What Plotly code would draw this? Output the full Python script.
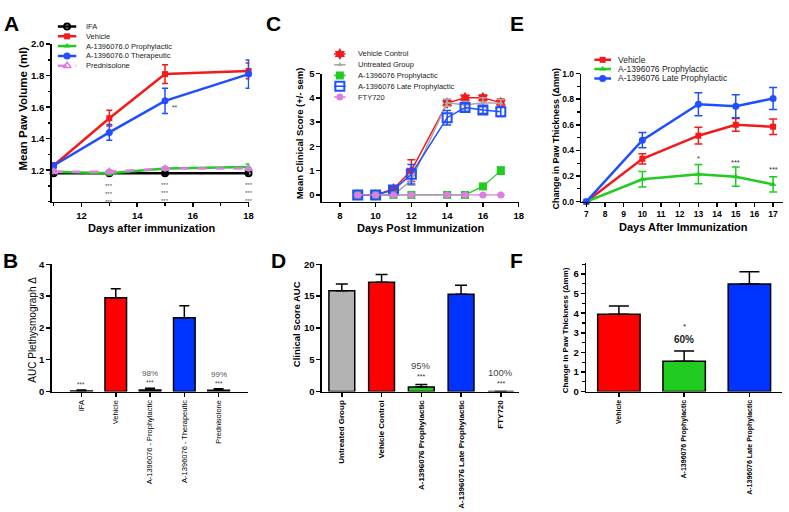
import plotly.graph_objects as go

W, H = 789, 512
FONT = "Liberation Sans"

RED = "#f21a1a"
GREEN = "#1fcc1f"
BLUE = "#1f4fff"
VIOLET = "#dd7ee0"
GRAY = "#a8a8a8"

# ---------------- Panel A data ----------------
A_days = [11, 13, 15, 18]
A_names = ["IFA", "Vehicle", "A-1396076.0 Prophylactic", "A-1396076.0 Therapeutic", "Prednisolone"]
A_ifa = [1.18, 1.18, 1.18, 1.18]
A_ifa_err = [0.005, 0.005, 0.005, 0.005]
A_vehicle = [1.23, 1.53, 1.81, 1.83]
A_vehicle_err = [0.015, 0.05, 0.06, 0.05]
A_proph = [1.19, 1.18, 1.21, 1.22]
A_proph_err = [0.01, 0.01, 0.01, 0.02]
A_thera = [1.23, 1.44, 1.64, 1.81]
A_thera_err = [0.01, 0.05, 0.08, 0.09]
A_pred = [1.19, 1.19, 1.21, 1.21]
A_pred_err = [0.01, 0.01, 0.01, 0.01]
A_sig_days = [13, 15, 18]
A_sig_y = [1.13, 1.14, 1.14]
A_pair_day = 15.36
A_pair_y = 1.60

# ---------------- Panel B data ----------------
B_groups = ["IFA", "Vehicle", "A-1396076 - Prophylactic", "A-1396076 - Therapeutic", "Prednisolone"]
B_auc = [0.02, 2.95, 0.05, 2.32, 0.04]
B_err = [0.03, 0.28, 0.05, 0.38, 0.05]
B_pct = ["", "", "98%", "", "99%"]
B_stars = ["***", "", "***", "", "***"]

# ---------------- Panel C data ----------------
C_days = [9, 10, 11, 12, 14, 15, 16, 17]
C_names = ["Vehicle Control", "Untreated Group", "A-1396076 Prophylactic", "A-1396076 Late Prophylactic", "FTY720"]
C_vehicle = [0, 0, 0.25, 1.0, 3.78, 4.0, 4.0, 3.8]
C_vehicle_err = [0, 0, 0.1, 0.45, 0.12, 0.1, 0.12, 0.15]
C_untreated = [0, 0, 0, 0.6, 3.8, 3.7, 3.8, 3.78]
C_untreated_err = [0, 0, 0, 0.2, 0.15, 0.15, 0.2, 0.15]
C_proph = [0, 0, 0, 0, 0, 0, 0.35, 1.0]
C_proph_err = [0, 0, 0, 0, 0, 0, 0.05, 0.15]
C_late = [0, 0, 0.2, 0.85, 3.18, 3.6, 3.5, 3.43]
C_late_err = [0, 0, 0.1, 0.4, 0.3, 0.15, 0.15, 0.2]
C_fty = [0, 0, 0, 0, 0, 0, 0, 0]
C_fty_err = [0, 0, 0, 0, 0, 0, 0, 0]

# ---------------- Panel D data ----------------
D_groups = ["Untreated Group", "Vehicle Control", "A-1396076 Prophylactic", "A-1396076 Late Prophylactic", "FTY720"]
D_auc = [15.85, 17.2, 0.7, 15.3, 0.0]
D_err = [1.05, 1.2, 0.4, 1.4, 0.0]
D_pct = ["", "", "95%", "", "100%"]
D_stars = ["", "", "***", "", "***"]

# ---------------- Panel E data ----------------
E_days = [7, 10, 13, 15, 17]
E_names = ["Vehicle", "A-1396076 Prophylactic", "A-1396076 Late Prophylactic"]
E_vehicle = [0, 0.335, 0.515, 0.60, 0.585]
E_vehicle_err = [0, 0.04, 0.065, 0.05, 0.06]
E_proph = [0, 0.175, 0.215, 0.195, 0.135]
E_proph_err = [0, 0.06, 0.075, 0.075, 0.06]
E_late = [0, 0.48, 0.76, 0.745, 0.805]
E_late_err = [0, 0.06, 0.09, 0.09, 0.085]
E_sig_days = [13, 15, 17]
E_sig_labels = ["*", "***", "***"]
E_sig_y = [0.34, 0.305, 0.25]

# ---------------- Panel F data ----------------
F_groups = ["Vehicle", "A-1396076 Prophylactic", "A-1396076 Late Prophylactic"]
F_vals = [3.95, 1.55, 5.5]
F_err = [0.42, 0.52, 0.62]
F_pct = ["", "60%", ""]
F_stars = ["", "*", ""]


def px(x):
    return x / W


def py(y):
    return 1 - y / H


fig = go.Figure()
layout = {}


def axis(**kw):
    d = dict(showline=True, linecolor="black", linewidth=1.5, ticks="outside",
             ticklen=4, tickwidth=1.5, tickcolor="black", showgrid=False,
             zeroline=False, fixedrange=True,
             tickfont=dict(family=FONT, size=9.5, color="black", weight="bold"))
    d.update(kw)
    return d


layout["xaxis"] = axis(domain=[px(52), px(251)], range=[10.93, 18.03], anchor="y",
                       tickvals=[12, 14, 16, 18],
                       minor=dict(ticks="outside", ticklen=2.5, tickwidth=1.2, tickcolor="black", tickvals=[11, 13, 15, 17]))
layout["yaxis"] = axis(domain=[py(200), py(39)], range=[1.0, 2.0], anchor="x",
                       tickvals=[1.2, 1.4, 1.6, 1.8, 2.0], tickformat=".1f",
                       minor=dict(ticks="outside", ticklen=2.5, tickwidth=1.2, tickcolor="black",
                                  tickvals=[1.0, 1.1, 1.3, 1.5, 1.7, 1.9]))
layout["xaxis2"] = axis(domain=[px(52), px(250)], range=[-0.87, 4.87], anchor="y2", type="category",
                        tickangle=-90, tickfont=dict(family=FONT, size=7.5, color="black"))
layout["yaxis2"] = axis(domain=[py(394), py(264)], range=[0, 4], anchor="x2", dtick=1)
layout["xaxis3"] = axis(domain=[px(324), px(522)], range=[7, 18], anchor="y3", dtick=2)
layout["yaxis3"] = axis(domain=[py(200), py(69)], range=[-0.28, 5], anchor="x3", dtick=1)
layout["xaxis4"] = axis(domain=[px(324), px(522)], range=[-0.5, 4.45], anchor="y4", type="category",
                        tickangle=-90, tickfont=dict(family=FONT, size=8, color="black", weight="bold"))
layout["yaxis4"] = axis(domain=[py(394), py(264)], range=[0, 20], anchor="x4", dtick=5)
layout["xaxis5"] = axis(domain=[px(585), px(788)], range=[6.73, 17.53], anchor="y5", dtick=1,
                        tickfont=dict(family=FONT, size=8.5, color="black", weight="bold"))
layout["yaxis5"] = axis(domain=[py(200), py(69)], range=[0, 1.0], anchor="x5", dtick=0.2, tickformat=".1f",
                        tickfont=dict(family=FONT, size=8.5, color="black", weight="bold"),
                        minor=dict(ticks="outside", ticklen=2.5, tickwidth=1.2, tickcolor="black", dtick=0.1))
layout["xaxis6"] = axis(domain=[px(590), px(787)], range=[-0.5, 2.5], anchor="y6", type="category",
                        tickangle=-90, tickfont=dict(family=FONT, size=7, color="black", weight="bold"))
layout["yaxis6"] = axis(domain=[py(394), py(263)], range=[0, 6.55], anchor="x6", dtick=1,
                        minor=dict(ticks="outside", ticklen=2.5, tickwidth=1.2, tickcolor="black", dtick=0.5))


def line_trace(x, y, err, color, symbol, size, xa, ya, width=2.5, dash="solid", mline=None, ewidth=3, name=""):
    marker = dict(color=color, symbol=symbol, size=size)
    if mline:
        marker["line"] = mline
    fig.add_trace(go.Scatter(x=x, y=y, mode="lines+markers", name=name,
                             line=dict(color=color, width=width, dash=dash),
                             marker=marker, cliponaxis=False,
                             error_y=dict(type="data", array=err, color=color, thickness=1.5, width=ewidth),
                             xaxis=xa, yaxis=ya, showlegend=False, hoverinfo="skip"))


# ---- Panel A ----
A_styles = [
    (A_ifa, A_ifa_err, "black", "circle-open", 6, "solid", dict(color="black", width=2)),
    (A_vehicle, A_vehicle_err, RED, "square", 6, "solid", None),
    (A_proph, A_proph_err, GREEN, "triangle-up", 6, "solid", None),
    (A_thera, A_thera_err, BLUE, "circle", 7, "solid", None),
    (A_pred, A_pred_err, VIOLET, "triangle-up-open", 7, "dash", dict(color=VIOLET, width=1.5)),
]
for (vals, err, col, sym, sz, dash, ml), nm in zip(A_styles, A_names):
    line_trace(A_days, vals, err, col, sym, sz, "x", "y", dash=dash, mline=ml, name=nm)

# ---- Panel B ----
fig.add_trace(go.Bar(x=B_groups, y=B_auc, width=0.63,
                     marker=dict(color=["white", "#ff0000", GREEN, "#0033ff", "white"], line=dict(color="black", width=1.5)),
                     error_y=dict(type="data", array=B_err, symmetric=False, arrayminus=[0] * len(B_err),
                                  color="black", thickness=1.5, width=5),
                     xaxis="x2", yaxis="y2", showlegend=False, hoverinfo="skip"))

# ---- Panel C ----
C_styles = [
    (C_vehicle, C_vehicle_err, RED, "hexagram", 9, None, 1.5),
    (C_untreated, C_untreated_err, GRAY, "triangle-up", 5, None, 1.5),
    (C_proph, C_proph_err, GREEN, "square", 8, None, 1.2),
    (C_late, C_late_err, BLUE, "square-open", 9, dict(color=BLUE, width=2), 1.5),
    (C_fty, C_fty_err, VIOLET, "circle", 7, None, 1.2),
]
for (vals, err, col, sym, sz, ml, lw), nm in zip(C_styles, C_names):
    line_trace(C_days, vals, err, col, sym, sz, "x3", "y3", width=lw, mline=ml, name=nm, ewidth=4)

# ---- Panel D ----
fig.add_trace(go.Bar(x=D_groups, y=D_auc, width=0.65,
                     marker=dict(color=["#b3b3b3", "#ff0000", GREEN, "#0033ff", "white"], line=dict(color="black", width=1.5)),
                     error_y=dict(type="data", array=D_err, symmetric=False, arrayminus=[0] * len(D_err),
                                  color="black", thickness=1.5, width=6),
                     xaxis="x4", yaxis="y4", showlegend=False, hoverinfo="skip"))

# ---- Panel E ----
E_styles = [
    (E_vehicle, E_vehicle_err, RED, "square", 6),
    (E_proph, E_proph_err, GREEN, "triangle-up", 6),
    (E_late, E_late_err, BLUE, "circle", 7),
]
for (vals, err, col, sym, sz), nm in zip(E_styles, E_names):
    line_trace(E_days, vals, err, col, sym, sz, "x5", "y5", name=nm, ewidth=4)

# ---- Panel F ----
fig.add_trace(go.Bar(x=F_groups, y=F_vals, width=0.65,
                     marker=dict(color=["#ff0000", GREEN, "#0033ff"], line=dict(color="black", width=1.5)),
                     error_y=dict(type="data", array=F_err, symmetric=False, arrayminus=[0] * len(F_err),
                                  color="black", thickness=1.5, width=10),
                     xaxis="x6", yaxis="y6", showlegend=False, hoverinfo="skip"))

# ---- custom compact legends ----
legend_n = [7]


def add_legend(x0, x1, y0, y1, names, styles, text_px, fsize, lw):
    n = legend_n[0]
    legend_n[0] += 1
    layout[f"xaxis{n}"] = dict(domain=[px(x0), px(x1)], range=[0, 1], visible=False, fixedrange=True, anchor=f"y{n}")
    layout[f"yaxis{n}"] = dict(domain=[py(y1), py(y0)], range=[len(names) - 0.5, -0.5], visible=False,
                               fixedrange=True, anchor=f"x{n}")
    for i, (nm, st) in enumerate(zip(names, styles)):
        col, sym, sz, dash, ml = st
        fig.add_trace(go.Scatter(x=[0, 1], y=[i, i], mode="lines", line=dict(color=col, width=lw, dash=dash),
                                 xaxis=f"x{n}", yaxis=f"y{n}", showlegend=False, hoverinfo="skip", cliponaxis=False))
        marker = dict(color=col, symbol=sym, size=sz)
        if ml:
            marker["line"] = ml
        fig.add_trace(go.Scatter(x=[0.5], y=[i], mode="markers", marker=marker,
                                 xaxis=f"x{n}", yaxis=f"y{n}", showlegend=False, hoverinfo="skip", cliponaxis=False))
        fig.add_annotation(x=1, y=i, xref=f"x{n}", yref=f"y{n}", text=nm, showarrow=False,
                           xanchor="left", yanchor="middle", xshift=text_px - x1,
                           font=dict(family=FONT, size=fsize, color="#222"))


add_legend(58, 77, 16, 66, A_names,
           [(s[2], s[3], s[4], s[5], s[6]) for s in A_styles], 84, 7.5, 2.5)
add_legend(336, 348, 43.5, 98.5, C_names,
           [(s[2], s[3], s[4], "solid", s[5]) for s in C_styles], 358, 7.5, 1.5)
add_legend(598, 615, 50.25, 78.75, E_names,
           [(s[2], s[3], s[4], "solid", None) for s in E_styles], 620, 8.5, 2.5)

# ---- annotations ----
ann = []


def text(x, y, t, size, bold=False, angle=0, xanchor="center", yanchor="middle", color="black"):
    ann.append(dict(x=px(x), y=py(y), xref="paper", yref="paper", text=t, showarrow=False,
                    textangle=angle, xanchor=xanchor, yanchor=yanchor,
                    font=dict(family=FONT, size=size, color=color, weight="bold" if bold else "normal")))


# panel letters
for lbl, x, y in [("A", 2, 4), ("B", 1, 246), ("C", 266, 4), ("D", 271, 246), ("E", 511, 4), ("F", 511, 246)]:
    ann.append(dict(x=px(x), y=py(y), xref="paper", yref="paper", text=lbl, showarrow=False,
                    xanchor="left", yanchor="top", font=dict(family=FONT, size=21, color="black", weight="bold")))

# axis titles
text(23, 105, "Mean Paw Volume (ml)", 11.5, True, -90)
text(152, 227, "Days after immunization", 11, True)
text(33, 331, "AUC Plethysmograph Δ", 10, False, -90)
text(301, 130, "Mean Clinical Score (+/- sem)", 9.5, True, -90)
text(423, 227, "Days Post Immunization", 11, True)
text(298, 325, "Clinical Score AUC", 9.5, True, -90)
text(560, 135, "Change in Paw Thickness (Δmm)", 9, True, -90)
text(688, 226, "Days After Immunization", 11, True)
text(570, 331, "Change in Paw Thickness (Δmm)", 8, True, -90)

# significance markers, panel A (three stacked rows)
for d, yv in zip(A_sig_days, A_sig_y):
    ann.append(dict(x=d, y=yv, xref="x", yref="y", text="***<br>***<br>***", showarrow=False,
                    yanchor="top", font=dict(family=FONT, size=6, color="#555")))
ann.append(dict(x=A_pair_day, y=A_pair_y, xref="x", yref="y", text="**", showarrow=False,
                font=dict(family=FONT, size=6.5, color="#333")))

# panel B labels
for g, v, e, p, s in zip(B_groups, B_auc, B_err, B_pct, B_stars):
    if s:
        ann.append(dict(x=g, y=v + e, xref="x2", yref="y2", text=s, showarrow=False, yanchor="bottom", yshift=0,
                        font=dict(family=FONT, size=6.5, color="#444")))
    if p:
        ann.append(dict(x=g, y=v + e, xref="x2", yref="y2", text=p, showarrow=False, yanchor="bottom", yshift=8,
                        font=dict(family=FONT, size=8, color="#555")))

# panel D labels
for g, v, e, p, s in zip(D_groups, D_auc, D_err, D_pct, D_stars):
    if s:
        ann.append(dict(x=g, y=v + e, xref="x4", yref="y4", text=s, showarrow=False, yanchor="bottom", yshift=3,
                        font=dict(family=FONT, size=7, color="#333")))
    if p:
        ann.append(dict(x=g, y=v + e, xref="x4", yref="y4", text=p, showarrow=False, yanchor="bottom", yshift=12,
                        font=dict(family=FONT, size=9.5, color="#444")))

# panel E labels
for d, t, yv in zip(E_sig_days, E_sig_labels, E_sig_y):
    ann.append(dict(x=d, y=yv, xref="x5", yref="y5", text=t, showarrow=False,
                    font=dict(family=FONT, size=7.5, color="#333")))

# panel F labels
for g, v, e, p, s in zip(F_groups, F_vals, F_err, F_pct, F_stars):
    if p:
        ann.append(dict(x=g, y=v + e, xref="x6", yref="y6", text=p, showarrow=False, yanchor="bottom", yshift=4,
                        font=dict(family=FONT, size=10, color="#222", weight="bold")))
    if s:
        ann.append(dict(x=g, y=v + e, xref="x6", yref="y6", text=s, showarrow=False, yanchor="bottom", yshift=18,
                        font=dict(family=FONT, size=8, color="#222")))

existing = list(fig.layout.annotations)
fig.update_layout(**layout)
fig.update_layout(width=W, height=H, margin=dict(l=0, r=0, t=0, b=0),
                  paper_bgcolor="white", plot_bgcolor="white", showlegend=False,
                  font=dict(family=FONT, color="black"),
                  annotations=existing + ann, bargap=0)

fig.write_html("out.html", config={"displayModeBar": False, "staticPlot": True},
               post_script="document.body.style.margin='0';document.body.style.overflow='hidden';")
